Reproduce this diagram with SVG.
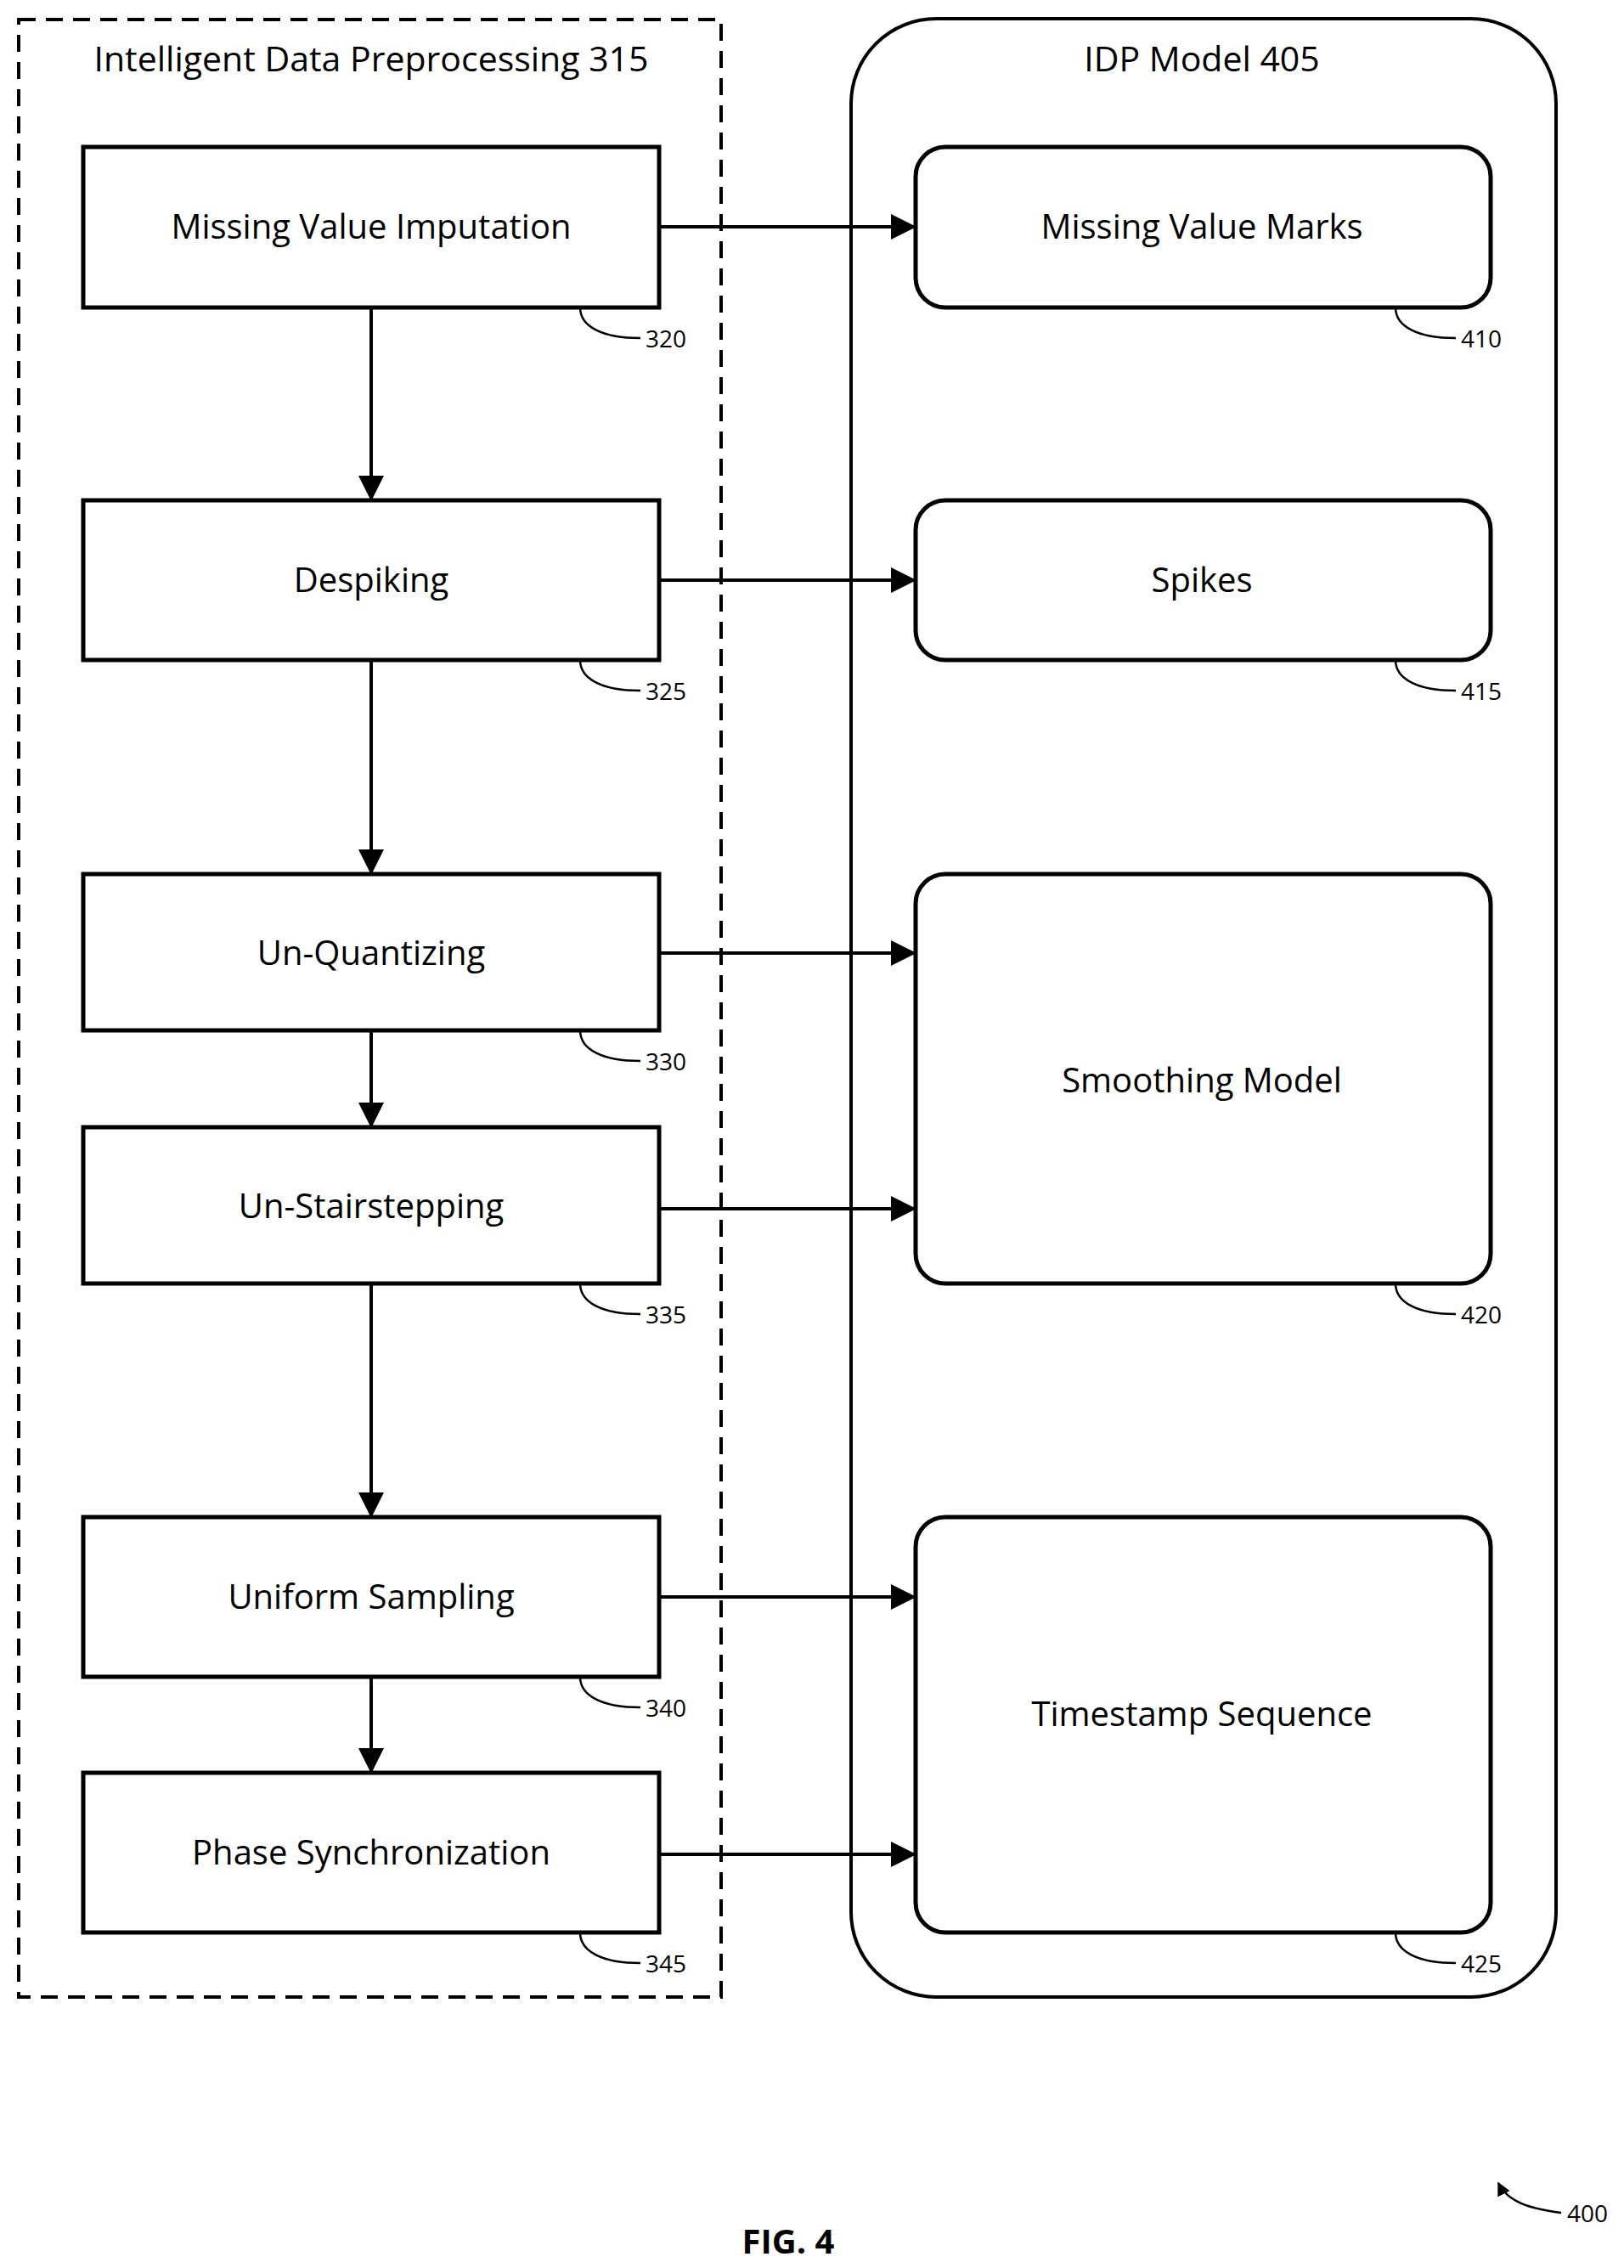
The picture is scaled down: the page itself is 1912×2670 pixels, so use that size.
<svg xmlns="http://www.w3.org/2000/svg" width="1912" height="2670" viewBox="0 0 1912 2670">
<style>
.b{fill:#fff;stroke:#000;stroke-width:5}
.t{font-family:"Open Sans","Liberation Sans",sans-serif;font-size:40px;text-anchor:middle;dominant-baseline:central}
.h{font-family:"Open Sans","Liberation Sans",sans-serif;font-size:41px;text-anchor:middle;dominant-baseline:central}
.n{font-family:"Open Sans","Liberation Sans",sans-serif;font-size:28px;dominant-baseline:central}
.c{fill:none;stroke:#000;stroke-width:4}
.l{fill:none;stroke:#000;stroke-width:2.5}
</style>
<defs>
<marker id="ah" viewBox="0 0 10 10" refX="9" refY="5" markerWidth="30" markerHeight="30" markerUnits="userSpaceOnUse" orient="auto"><path d="M0,0L10,5L0,10z"/></marker>
<marker id="sm" viewBox="0 0 10 10" refX="9" refY="5" markerWidth="16" markerHeight="16" markerUnits="userSpaceOnUse" orient="auto"><path d="M0,0L10,5L0,10z"/></marker></defs>
<g id="group315"><rect x="22" y="23" width="827" height="2328" fill="none" stroke="#000" stroke-width="4" stroke-dasharray="20,12"/><text class="h" x="437" y="68">Intelligent Data Preprocessing 315</text></g>
<g id="group405"><rect x="1002" y="22" width="830" height="2329" rx="100" fill="none" stroke="#000" stroke-width="4"/><text class="h" x="1415" y="68">IDP Model 405</text></g>
<g id="connectors">
<path class="c" marker-end="url(#ah)" d="M437 362V587"/>
<path class="c" marker-end="url(#ah)" d="M437 777V1027"/>
<path class="c" marker-end="url(#ah)" d="M437 1213V1325"/>
<path class="c" marker-end="url(#ah)" d="M437 1511V1784"/>
<path class="c" marker-end="url(#ah)" d="M437 1974V2085"/>
<path class="c" marker-end="url(#ah)" d="M776 267H1076"/>
<path class="c" marker-end="url(#ah)" d="M776 683H1076"/>
<path class="c" marker-end="url(#ah)" d="M776 1122H1076"/>
<path class="c" marker-end="url(#ah)" d="M776 1423H1076"/>
<path class="c" marker-end="url(#ah)" d="M776 1880H1076"/>
<path class="c" marker-end="url(#ah)" d="M776 2183H1076"/>
<path class="l" marker-end="url(#sm)" d="M1838 2605C1800 2600 1775 2592 1764 2570"/>
</g>
<g id="n320"><rect class="b" x="98" y="173" width="678" height="189"/><text class="t" x="437" y="265">Missing Value Imputation</text><path class="l" d="M683 362C683 385 710 398 754 398"/><text class="n" x="760" y="398">320</text></g>
<g id="n325"><rect class="b" x="98" y="589" width="678" height="188"/><text class="t" x="437" y="681">Despiking</text><path class="l" d="M683 777C683 800 710 813 754 813"/><text class="n" x="760" y="813">325</text></g>
<g id="n330"><rect class="b" x="98" y="1029" width="678" height="184"/><text class="t" x="437" y="1120">Un-Quantizing</text><path class="l" d="M683 1213C683 1236 710 1249 754 1249"/><text class="n" x="760" y="1249">330</text></g>
<g id="n335"><rect class="b" x="98" y="1327" width="678" height="184"/><text class="t" x="437" y="1418">Un-Stairstepping</text><path class="l" d="M683 1511C683 1534 710 1547 754 1547"/><text class="n" x="760" y="1547">335</text></g>
<g id="n340"><rect class="b" x="98" y="1786" width="678" height="188"/><text class="t" x="437" y="1878">Uniform Sampling</text><path class="l" d="M683 1974C683 1997 710 2010 754 2010"/><text class="n" x="760" y="2010">340</text></g>
<g id="n345"><rect class="b" x="98" y="2087" width="678" height="188"/><text class="t" x="437" y="2179">Phase Synchronization</text><path class="l" d="M683 2275C683 2298 710 2311 754 2311"/><text class="n" x="760" y="2311">345</text></g>
<g id="n410"><rect class="b" x="1078" y="173" width="677" height="189" rx="35"/><text class="t" x="1415" y="265">Missing Value Marks</text><path class="l" d="M1643 362C1643 385 1670 398 1714 398"/><text class="n" x="1720" y="398">410</text></g>
<g id="n415"><rect class="b" x="1078" y="589" width="677" height="188" rx="35"/><text class="t" x="1415" y="681">Spikes</text><path class="l" d="M1643 777C1643 800 1670 813 1714 813"/><text class="n" x="1720" y="813">415</text></g>
<g id="n420"><rect class="b" x="1078" y="1029" width="677" height="482" rx="35"/><text class="t" x="1415" y="1270">Smoothing Model</text><path class="l" d="M1643 1511C1643 1534 1670 1547 1714 1547"/><text class="n" x="1720" y="1547">420</text></g>
<g id="n425"><rect class="b" x="1078" y="1786" width="677" height="489" rx="35"/><text class="t" x="1415" y="2016">Timestamp Sequence</text><path class="l" d="M1643 2275C1643 2298 1670 2311 1714 2311"/><text class="n" x="1720" y="2311">425</text></g>
<text class="n" x="1845" y="2605">400</text>
<text x="928" y="2637" font-family="Open Sans, Liberation Sans, sans-serif" font-weight="bold" font-size="40" text-anchor="middle" dominant-baseline="central">FIG. 4</text>
</svg>
